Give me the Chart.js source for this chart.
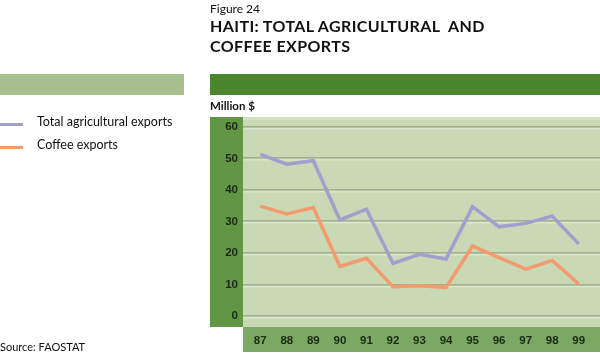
<!DOCTYPE html>
<html>
<head>
<meta charset="utf-8">
<script src="https://cdn.jsdelivr.net/npm/chart.js@4"></script>
<style>
  html, body { margin: 0; padding: 0; background: #fff; }
  #wrap { position: relative; width: 600px; height: 355px; overflow: hidden; font-family: Lato, "Open Sans", sans-serif; }
  #c { position: absolute; left: 0; top: 0; }
  .t { position: absolute; white-space: nowrap; color: #111; }
  #fig { left: 210px; top: 1px; font-size: 12px; }
  #title { left: 210px; top: 16px; font-size: 16px; font-weight: bold; line-height: 20px; letter-spacing: 0.4px; }
  #unit { left: 210px; top: 99px; font-size: 11.5px; font-weight: bold; }
  #src { left: 0px; top: 340px; font-size: 11px; }
  .lg { position: absolute; left: 0; font-size: 12.5px; color: #111; white-space: nowrap; }
  .lg span.sw { position: absolute; left: 0; width: 23px; height: 3px; }
  .lg span.tx { position: absolute; left: 37px; top: -9px; }
</style>
</head>
<body>
<div id="wrap">
  <canvas id="c" width="600" height="355"></canvas>
  <div class="t" id="fig">Figure 24</div>
  <div class="t" id="title">HAITI: TOTAL AGRICULTURAL &nbsp;AND<br>COFFEE EXPORTS</div>
  <div class="t" id="unit">Million $</div>
  <div class="t" id="src">Source: FAOSTAT</div>
  <div id="legend"></div>
</div>
<script>
const categories = ["87","88","89","90","91","92","93","94","95","96","97","98","99"];
const totalAgri  = [51.3, 48.2, 49.3, 30.5, 33.9, 16.7, 19.6, 18.1, 34.7, 28.3, 29.4, 31.7, 22.9];
const coffee     = [34.9, 32.4, 34.4, 15.7, 18.3,  9.3,  9.6,  9.1, 22.2, 18.5, 14.9, 17.6, 10.2];
const yTicks     = [0, 10, 20, 30, 40, 50, 60];
const seriesLabels = ["Total agricultural exports", "Coffee exports"];
const seriesColors = ["#a09fcd", "#f39a6e"];

const bgPlugin = {
  id: 'bg',
  beforeDraw(chart) {
    const ctx = chart.ctx, a = chart.chartArea, W = chart.width;
    ctx.save();
    ctx.fillStyle = '#a8c090'; ctx.fillRect(0, 74, 184, 21);
    ctx.fillStyle = '#4b852d'; ctx.fillRect(210, 74, W - 210, 21);
    ctx.fillStyle = '#619645'; ctx.fillRect(210, a.top, a.left - 4 - 210, a.bottom - a.top);
    ctx.fillStyle = '#c9d8b5'; ctx.fillRect(a.left - 4, a.top, W - (a.left - 4), a.bottom - a.top);
    ctx.fillStyle = '#d5e1c4'; ctx.fillRect(a.left - 4, a.top, W - (a.left - 4), 3);
    ctx.fillStyle = '#7ba862'; ctx.fillRect(a.left - 4, a.bottom, W - (a.left - 4), 25);
    const y = chart.scales.y;
    yTicks.forEach(v => {
      const py = Math.round(y.getPixelForValue(v));
      ctx.fillStyle = '#9fb08c'; ctx.fillRect(a.left - 4, py - 1, W - (a.left - 4), 1.5);
      ctx.fillStyle = '#dbe5cd'; ctx.fillRect(a.left - 4, py + 1, W - (a.left - 4), 1.5);
    });
    ctx.restore();
  }
};

new Chart(document.getElementById('c'), {
  type: 'line',
  data: {
    labels: categories,
    datasets: [
      { label: seriesLabels[0], data: totalAgri, borderColor: seriesColors[0], borderWidth: 3.5, pointRadius: 0, tension: 0, borderJoinStyle: 'miter' },
      { label: seriesLabels[1], data: coffee, borderColor: seriesColors[1], borderWidth: 3.5, pointRadius: 0, tension: 0, borderJoinStyle: 'miter' }
    ]
  },
  options: {
    responsive: false,
    animation: false,
    layout: { padding: { left: 210, top: 117, right: 8, bottom: 0 } },
    plugins: { legend: { display: false }, tooltip: { enabled: false }, title: { display: false } },
    scales: {
      x: {
        offset: true,
        grid: { display: false, drawTicks: false },
        border: { display: false },
        ticks: { color: '#1a2a12', font: { family: 'Arial, Liberation Sans', size: 11.5, weight: 'bold' }, padding: 7, maxRotation: 0, autoSkip: false },
        afterFit(s) { s.height = 28; }
      },
      y: {
        min: -3.49, max: 63.17,
        grid: { display: false, drawTicks: false },
        border: { display: false },
        afterBuildTicks(s) { s.ticks = yTicks.map(v => ({ value: v })); },
        ticks: { color: '#1a2a12', font: { family: 'Arial, Liberation Sans', size: 11.5, weight: 'bold' }, padding: 9 },
        afterFit(s) { s.width = 37; }
      }
    }
  },
  plugins: [bgPlugin]
});

const lg = document.getElementById('legend');
seriesLabels.forEach((lab, i) => {
  const d = document.createElement('div');
  d.className = 'lg';
  d.style.top = (123 + i * 23) + 'px';
  d.innerHTML = '<span class="sw" style="background:' + seriesColors[i] + '"></span><span class="tx">' + lab + '</span>';
  lg.appendChild(d);
});
</script>
</body>
</html>
